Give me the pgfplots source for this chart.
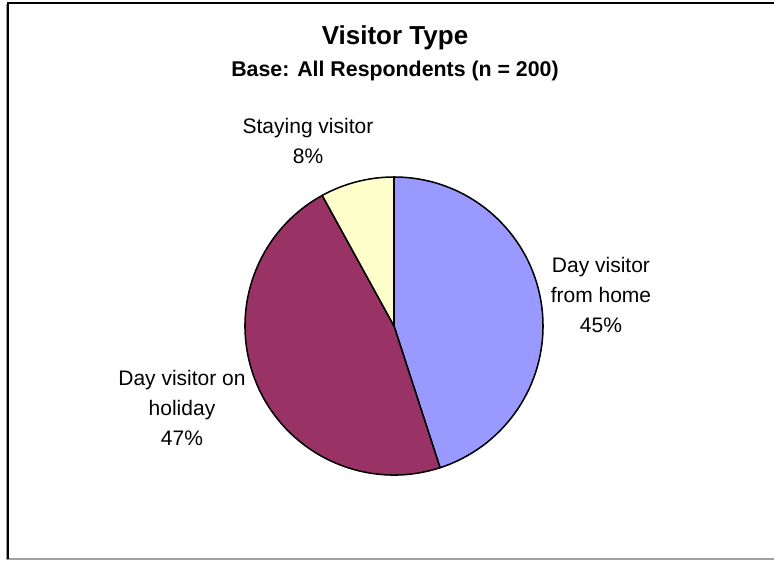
\documentclass[border=0pt]{standalone}
\usepackage{pgfplots}
\usepackage{pgfplotstable}
\pgfplotsset{compat=1.18}
\usepackage{fontspec}
\setmainfont{Liberation Sans}

\definecolor{homeblue}{HTML}{9999FF}
\definecolor{holred}{HTML}{993366}
\definecolor{stayyel}{HTML}{FFFFCC}
\definecolor{framegray}{HTML}{A0A0A0}

% slices clockwise from 12 o'clock: pct = share, cum = share before it
\pgfplotstableread{
x   y   pct cum
394 326 45  0
394 326 47  45
394 326 8   92
}\slices

\begin{document}
\begin{tikzpicture}
\begin{axis}[
  scale only axis, width=580.5pt, height=420pt,
  xmin=0, xmax=774, ymin=0, ymax=560, y dir=reverse,
  hide axis, clip=false]

\addplot[scatter, only marks, mark=*, mark size=0pt,
  mark options={draw=none, fill=none},
  point meta=\thisrow{pct},
  visualization depends on={\thisrow{pct} \as \pct},
  visualization depends on={\thisrow{cum} \as \cum},
  visualization depends on={value \coordindex \as \idx},
  scatter/@pre marker code/.code={%
    \pgfmathsetmacro\sa{90-3.6*\cum}%
    \pgfmathsetmacro\ea{\sa-3.6*\pct}%
    \pgfmathtruncatemacro\k{\idx}%
    \ifcase\k\def\col{homeblue}\or\def\col{holred}\else\def\col{stayyel}\fi
    \filldraw[fill=\col, draw=black, line width=1.15pt, line join=round]
      (0,0) -- (\sa:111.75pt) arc[start angle=\sa, end angle=\ea, radius=111.75pt] -- cycle;
  },
  scatter/@post marker code/.code={}]
  table[x=x, y=y] {\slices};

% titles
\node[anchor=base, font=\fontsize{19.5}{23}\selectfont\bfseries] at (axis cs:395,45) {Visitor Type};
\node[anchor=base, font=\fontsize{16}{19}\selectfont\bfseries] at (axis cs:395,77) {Base: All Respondents (n = 200)};

% data labels
\tikzset{lab/.style={anchor=base, font=\fontsize{15.75}{19}\selectfont}}
\node[lab] at (axis cs:308,133) {Staying visitor};
\node[lab] at (axis cs:308,163) {8\%};
\node[lab] at (axis cs:601,272) {Day visitor};
\node[lab] at (axis cs:601,302) {from home};
\node[lab] at (axis cs:601,332) {45\%};
\node[lab] at (axis cs:182,385) {Day visitor on};
\node[lab] at (axis cs:182,415) {holiday};
\node[lab] at (axis cs:182,445) {47\%};

% chart area frame
\draw[framegray, line width=1.1pt] (axis cs:6,559) -- (axis cs:774,559);
\draw[framegray, line width=0.8pt] (axis cs:6.5,4) -- (axis cs:6.5,559);
\draw[black, line width=1.5pt] (axis cs:8,559) -- (axis cs:8,3.5) -- (axis cs:774,3.5);
\end{axis}
\pgfresetboundingbox
\path (0,0) rectangle (580.5pt,420pt);
\end{tikzpicture}
\end{document}
